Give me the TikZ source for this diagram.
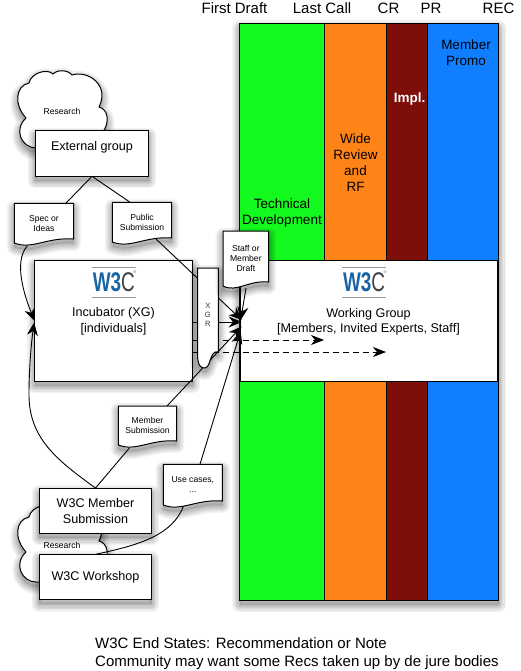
\documentclass[tikz,border=0pt]{standalone}
\usepackage{fontspec}
\usepackage{graphicx}
\setmainfont{Liberation Sans}
\usetikzlibrary{arrows.meta,calc}
\definecolor{cgreen}{RGB}{20,250,30}
\definecolor{corange}{RGB}{255,132,24}
\definecolor{cred}{RGB}{125,14,8}
\definecolor{cblue}{RGB}{15,127,255}
\definecolor{lblue}{RGB}{25,100,165}
\tikzset{
  shadowlayer/.style={preaction={draw=black,fill=black,line join=round,line width=#1,draw opacity=0.05,fill opacity=0.02,transform canvas={yshift=-4.5pt}}},
  softshadow/.style={shadowlayer=15pt,shadowlayer=12pt,shadowlayer=9.5pt,shadowlayer=7pt,shadowlayer=4.5pt,shadowlayer=2pt},
  boxed/.style={draw=black,fill=white,line width=1pt,softshadow},
  column/.style={draw=black,line width=1pt},
  toptext/.style={font=\fontsize{15}{16}\selectfont,inner sep=0pt},
  bigtext/.style={font=\fontsize{13.5}{16}\selectfont,align=center,inner sep=0pt},
  boxtext/.style={font=\fontsize{12.6}{15.5}\selectfont,align=center,inner sep=0pt},
  doctext/.style={font=\fontsize{8.6}{10}\selectfont,align=center,inner sep=0pt},
  conn/.style={draw=black,line width=0.9pt},
  bigarrow/.style={conn,-{Stealth[length=13pt,width=11pt]}},
  dasharrow/.style={conn,dash pattern=on 6pt off 4pt,-{Stealth[length=13pt,width=10pt,inset=4pt]}},
  rulegray/.style={draw=black!40,line width=1pt}
}
% cloud outline, #1 = vertical offset
\newcommand{\cloudat}[2]{%
  \draw[boxed] (36,#1+148) .. controls (22,#1+148) and (13,#1+130) .. (26,#1+118)
    .. controls (14,#1+105) and (15,#1+86) .. (29,#1+83)
    .. controls (31,#1+73) and (47,#1+68) .. (53,#1+74)
    .. controls (58,#1+69) and (68,#1+70) .. (72,#1+75)
    .. controls (88,#1+70) and (110,#1+85) .. (99,#1+107)
    .. controls (108,#1+109) and (110,#1+122) .. (103,#1+132)
    -- (80,#1+150) -- cycle;
  \node[doctext] (#2) at (62,#1+111) {Research};
}
% document shape: name, x1, y1, x2, y2, text
\newcommand{\docbox}[6]{%
  \draw[boxed,line join=miter] (#2,#3) -- (#4,#3) -- (#4,#5-4)
    .. controls ({#4-(#4-#2)*0.45},#5-6) and ({#2+(#4-#2)*0.3},#5+7) .. (#2,#5) -- cycle;
  \coordinate (#1 nw) at (#2,#3);
  \coordinate (#1 ne) at (#4,#3);
  \coordinate (#1 sw) at (#2,#5);
  \coordinate (#1 se) at (#4,#5);
  \node[doctext] (#1) at ({(#2+#4)/2},{#3+(#5-#3)*0.5}) {#6};
}
\newcommand{\logoat}[3]{%
  \draw[rulegray] (#2-22,267.7) -- (#2+22,267.7);
  \draw[rulegray] (#2-22,297) -- (#2+22,297);
  \node[inner sep=0pt] (#1) at (#2,#3) {\scalebox{0.7}[1]{\fontsize{27}{27}\selectfont\textbf{\textcolor{lblue}{W3}}\textcolor{black!75}{C}}};
  \node[inner sep=0pt,font=\fontsize{4}{4}\selectfont,text=black!60] (#1 r) at (#2+21,272.5) {®};
}
\begin{document}
\begin{tikzpicture}[x=1pt,y=-1pt]
\useasboundingbox (0,0) rectangle (521,671);
% columns
\fill[white,softshadow] (239.5,23.5) rectangle (498.5,600);
\draw[column,fill=cgreen] (239.5,23.5) rectangle (324.5,600);
\draw[column,fill=corange] (324.5,23.5) rectangle (386.2,600);
\draw[column,fill=cred] (386.2,23.5) rectangle (427,600);
\draw[column,fill=cblue] (427,23.5) rectangle (498.5,600);
% stage labels
\node[toptext] (fd) at (234.5,8.5) {First Draft};
\node[toptext] (lc) at (322,8.5) {Last Call};
\node[toptext] (cr) at (388.5,8.5) {CR};
\node[toptext] (pr) at (431,8.5) {PR};
\node[toptext] (rec) at (498.5,8.5) {REC};
\node[bigtext] (promo) at (466,53) {Member\\Promo};
\node[bigtext,text=white,font=\bfseries\fontsize{13.5}{16}\selectfont] (impl) at (409.5,99) {Impl.};
\node[bigtext] (wide) at (355.5,163) {Wide\\Review\\and\\RF};
\node[bigtext] (tech) at (282,213) {Technical\\Development};
% working group
\draw[draw=black,fill=white,line width=1pt] (240,260) rectangle (497,381);
\node[inner sep=0pt,minimum width=257pt,minimum height=121pt] (wg) at (368.5,320.5) {};
\logoat{wglogo}{364}{282.5}
\node[boxtext] (wgtext) at (368.5,321.5) {Working Group\\{[Members, Invited Experts, Staff]}};
% clouds
\cloudat{0}{res1}
\cloudat{434}{res2}
% boxes
\draw[boxed] (35.3,131) rectangle (148.7,176.3);
\node[inner sep=0pt,minimum width=113pt,minimum height=45pt] (external) at (92,153.6) {};
\node[boxtext] (externaltext) at (92,147) {External group};
\draw[boxed] (34.5,260.5) rectangle (192.5,381);
\node[inner sep=0pt,minimum width=158pt,minimum height=120.5pt] (incubator) at (113.5,320.7) {};
\logoat{inclogo}{113.8}{282.5}
\node[boxtext] (inctext) at (113.5,321) {Incubator (XG)\\{[individuals]}};
\draw[boxed] (39.3,488.3) rectangle (151.7,533.3);
\node[boxtext,minimum width=112pt,minimum height=45pt] (member) at (95.5,510.8) {W3C Member\\Submission};
\draw[boxed] (39.3,554.3) rectangle (151.7,599.7);
\node[boxtext,minimum width=112pt,minimum height=45pt] (workshop) at (95.5,577) {W3C Workshop};
% hub where arrows meet
\coordinate (hub) at (241.7,322);
\coordinate (spectip) at (34.7,321);
\coordinate (memtip) at (34.2,322.5);
% incubator output lines, behind XGR
\draw[bigarrow] (incubator.east |- hub) -- (hub);
\coordinate (dash1) at (324,340);
\coordinate (dash2) at (386,352);
\draw[dasharrow] (incubator.east |- dash1) -- (dash1);
\draw[dasharrow] (incubator.east |- dash2) -- (dash2);
\coordinate (pubout) at (156,239);
\coordinate (memdoctop) at (167,406);
\coordinate (usetop) at (200,464.3);
\coordinate (stafftip) at (246,288);
\draw[bigarrow] (pubout) -- ($(hub)+(0,-2)$);
\draw[bigarrow] (memdoctop) -- ($(hub)+(0,4.5)$);
\draw[bigarrow] (usetop) -- ($(hub)+(-1,9)$);
\draw[bigarrow] (stafftip) -- ($(hub)+(-1,-2)$);
% XGR
\draw[boxed,line join=miter] (197.7,268) -- (218.3,268) -- (218.3,351.7)
  .. controls (208,350) and (212,372) .. (202,367.5) .. controls (199,366) and (198,362) .. (197.7,358) -- cycle;
\node[doctext,font=\fontsize{7.6}{9.2}\selectfont,text=black!80] (xgr) at (207.8,315) {X\\G\\R};
% documents
\docbox{spec}{14.3}{203.3}{73.5}{243}{Spec or\\Ideas}
\docbox{public}{112.3}{202.3}{171.7}{242}{Public\\Submission}
\docbox{staff}{223}{231}{268.7}{286}{Staff or\\Member\\Draft}
\docbox{memdoc}{118.3}{406}{176.7}{445}{Member\\Submission}
\docbox{usedoc}{163.3}{464.3}{222.3}{505}{Use cases,\\...}
% connectors
\draw[conn] (external.south) -- ($(spec nw)!.87!(spec ne)$);
\draw[conn] (external.south) -- ($(public nw)!.3!(public ne)$);
\draw[bigarrow] ($(spec sw)!.22!(spec se)+(0,3)$) .. controls (16,258) and (20,285) .. (spectip);
\draw[bigarrow] (member.north) .. controls (60,462) and (29,440) .. (29,395) .. controls (29,370) and (31,345) .. (memtip);
\draw[conn] ($(memdoc sw)!.19!(memdoc se)+(0,3)$) -- (member.north);
\draw[conn] ($(usedoc sw)!.34!(usedoc se)+(0,1.5)$) .. controls (172,535) and (140,545) .. (workshop.north);
% footer
\node[anchor=west,inner sep=0pt,font=\fontsize{15}{18}\selectfont,align=left] (foot) at (95,654) {W3C End States: Recommendation or Note\\Community may want some Recs taken up by de jure bodies};
\end{tikzpicture}
\end{document}
